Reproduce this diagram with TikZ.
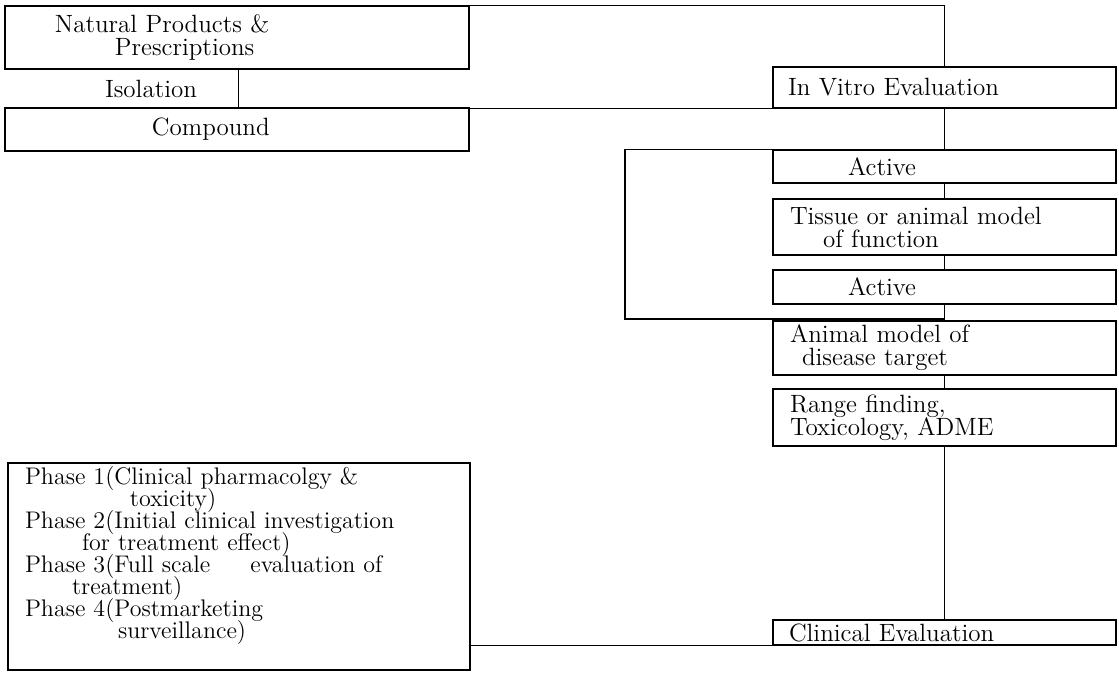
\documentclass[tikz,border=0pt]{standalone}
\begin{document}
\begin{tikzpicture}[x=0.5pt,y=-0.5pt,line width=0.6pt,
  blk/.style={draw,rectangle,inner xsep=2.5pt,inner ysep=0pt,align=left,
    font={\fontsize{12.5}{11.5}\selectfont\spaceskip=6pt plus 1pt\lineskiplimit=-20pt}},
  rbox/.style={blk,text width=166.5pt}]
\useasboundingbox (0,0) rectangle (1119,674);
% left column
\node[blk,text width=227pt,minimum height=31.5pt,font={\fontsize{12.5}{11.8}\selectfont\spaceskip=6pt plus 1pt\lineskiplimit=-20pt}] (nat) at (237,37.5) {\hspace*{22.5pt}Natural Products \&\\\hspace*{52.5pt}Prescriptions};
\node[blk,draw=none,text width=111.5pt,minimum height=19.5pt] (iso) at (121.5,88.5) {\hspace*{47.5pt}Isolation};
\node[blk,text width=227pt,minimum height=21.5pt] (comp) at (237,129.5) {\hspace*{71pt}Compound};
\node[blk,text width=226pt,minimum height=103.5pt,font={\fontsize{12}{11}\selectfont\spaceskip=8pt plus 1pt\lineskiplimit=-20pt}] (phase) at (239,566.5)
  {\hspace*{6pt}Phase 1(Clinical pharmacolgy \&\\
   \hspace*{58.5pt}toxicity)\\
   \hspace*{6pt}Phase 2(Initial clinical investigation\\
   \hspace*{34.5pt}for treatment effect)\\
   \hspace*{6pt}Phase 3(Full scale\hspace{16pt} evaluation of\\
   \hspace*{29.5pt}treatment)\\
   \hspace*{6pt}Phase 4(Postmarketing\\
   \hspace*{52.5pt}surveillance)\rule[-14.5pt]{0pt}{14.5pt}};
% right column
\node[rbox,minimum height=20.5pt] (vitro) at (944.5,87.5) {\hspace*{5pt}In Vitro Evaluation};
\node[rbox,minimum height=16.5pt] (act1) at (944.5,166.5) {\hspace*{35pt}Active};
\node[rbox,minimum height=28pt] (tis) at (944.5,227) {\hspace*{6pt}Tissue or animal model\\\hspace*{22.5pt}of function};
\node[rbox,minimum height=17pt] (act2) at (944.5,287) {\hspace*{35pt}Active};
\node[rbox,minimum height=27pt] (anim) at (944.5,348) {\hspace*{6pt}Animal model of\\\hspace*{12pt}disease target};
\node[rbox,minimum height=28.5pt] (range) at (944.5,417.5) {\hspace*{6pt}Range finding,\\\hspace*{6pt}Toxicology, ADME};
\node[rbox,minimum height=12.5pt] (clin) at (944.5,632.5) {\hspace*{5.5pt}Clinical Evaluation};
\coordinate (loop) at (625,319);
% connectors
\draw (nat.north east) -| (vitro.north);
\draw (iso.north east) -- (iso.south east);
\draw (vitro.south west) -- (vitro.south west -| comp.north east);
\draw (vitro.south) -- (act1.north);
\draw (act1.south) -- (tis.north);
\draw (tis.south) -- (act2.north);
\draw (act2.south) -- (anim.north);
\draw (anim.south) -- (range.north);
\draw (range.south) -- (clin.north);
\draw (act1.north west) -| (loop) -- (loop -| act2.south);
\draw (clin.south west) -- (clin.south west -| phase.east);
\end{tikzpicture}
\end{document}
